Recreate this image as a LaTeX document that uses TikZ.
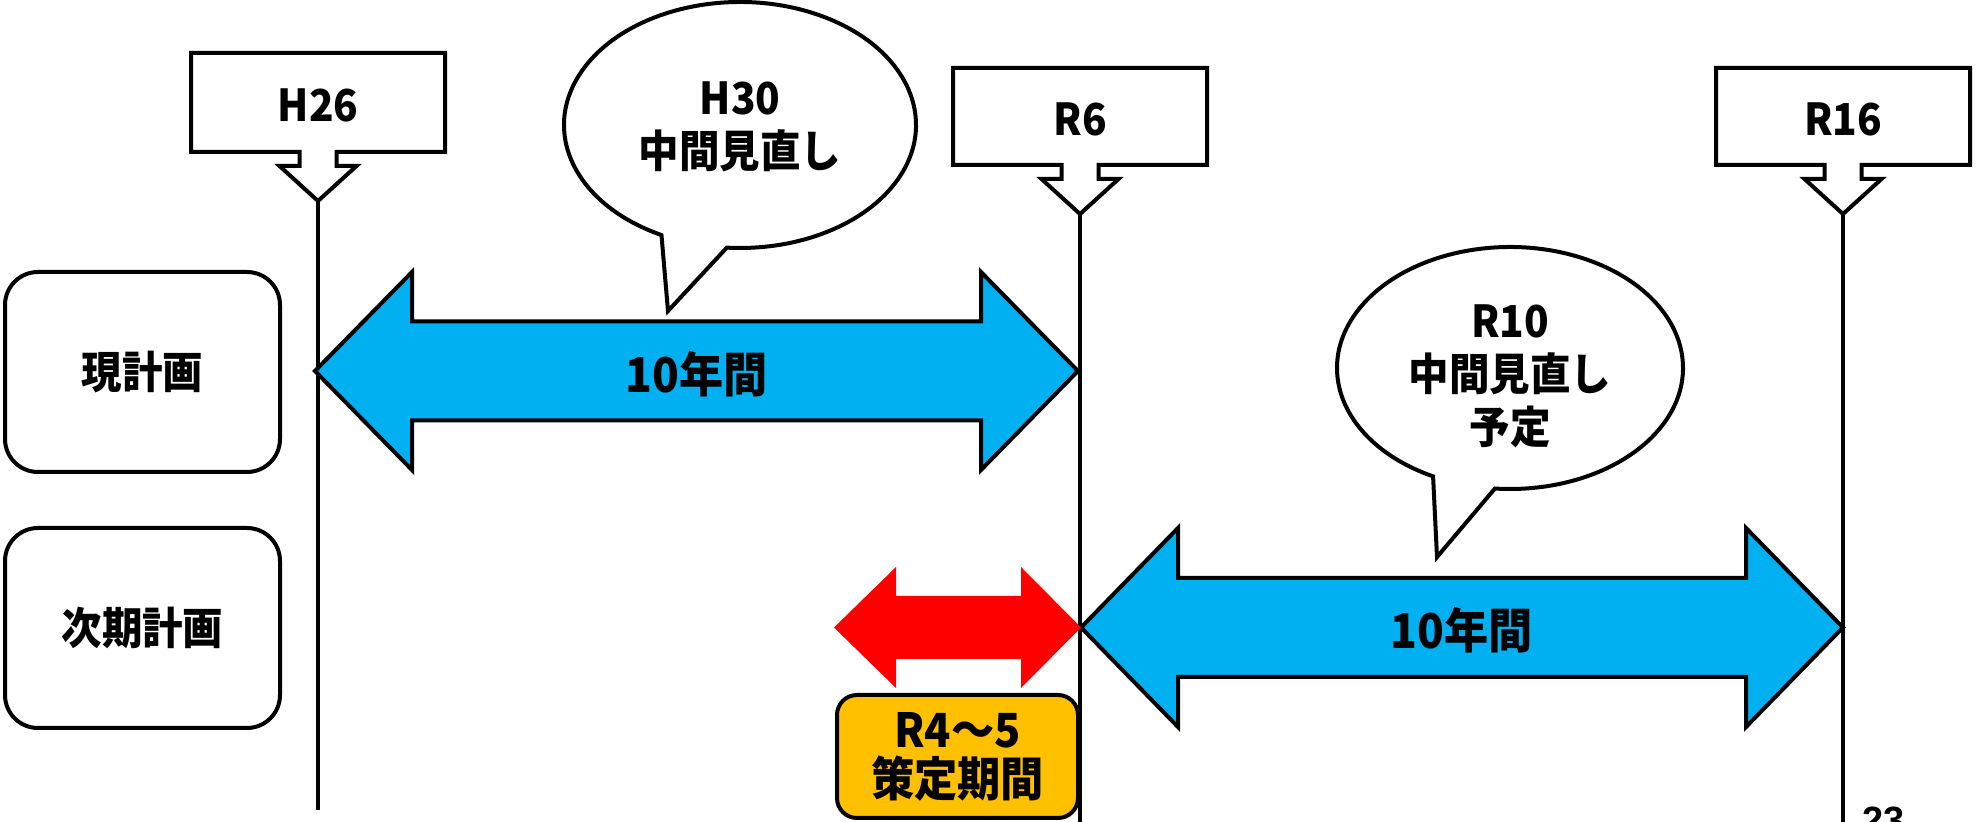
\documentclass[tikz,border=0pt]{standalone}
\usepackage{fontspec}
\newfontfamily\jp[FakeStretch=0.92]{Noto Sans CJK JP}
\setmainfont{Liberation Sans}
\definecolor{arrblue}{HTML}{00B0F0}
\definecolor{arrred}{HTML}{FF0000}
\definecolor{boxorange}{HTML}{FFC000}
\tikzset{
  outline/.style={draw=black, line width=2pt, line join=miter},
  vline/.style={draw=black, line width=1.75pt},
  lbl/.style={font=\jp\bfseries\fontsize{22}{26.5}\selectfont, align=center, inner sep=0pt},
  arrlbl/.style={font=\jp\bfseries\fontsize{24}{28}\selectfont, inner sep=0pt},
  sidebox/.style={outline, rounded corners=16.5pt, minimum width=137.5pt, minimum height=100pt, fill=white, inner sep=0pt, font=\jp\bfseries\fontsize{22}{26.5}\selectfont},
  orangebox/.style={outline, rounded corners=10pt, minimum width=120.5pt, minimum height=61.5pt, fill=boxorange, inner sep=0pt, align=center, font=\jp\bfseries\fontsize{23.5}{24.5}\selectfont},
  bluearrow/.style={outline, fill=arrblue},
  redarrow/.style={draw=none, fill=arrred},
}
% #1 name, #2 centre x, #3 top, #4 bottom, #5 text
\newcommand{\yearflag}[5]{%
  \draw[outline, fill=white]
    ({#2-127},#3) -- ({#2+127},#3) -- ({#2+127},#4) -- ({#2+18.5},#4)
    -- ({#2+18.5},{#4+14}) -- ({#2+38.5},{#4+14}) -- (#2,{#4+49})
    -- ({#2-38.5},{#4+14}) -- ({#2-18.5},{#4+14}) -- ({#2-18.5},#4)
    -- ({#2-127},#4) -- cycle;
  \node[lbl] (#1) at (#2,{(#3+#4)/2+3}) {#5};
  \coordinate (#1-tip) at (#2,{#4+49});
}
% #1 left tip x, #2 right tip x, #3 left base x, #4 right base x, #5 centre y, #6 head half height, #7 shaft half height
\newcommand{\dblarrowpath}[7]{%
  (#1,#5) -- (#3,{#5-#6}) -- (#3,{#5-#7}) -- (#4,{#5-#7}) -- (#4,{#5-#6})
  -- (#2,#5) -- (#4,{#5+#6}) -- (#4,{#5+#7}) -- (#3,{#5+#7}) -- (#3,{#5+#6}) -- cycle
}
\begin{document}
\begin{tikzpicture}[x=0.5pt, y=-0.5pt]
\useasboundingbox (0,0) rectangle (1977,822);

% coordinates for line ends
\coordinate (h26-end) at (318,810);
\coordinate (r6-end) at (1080,830);
\coordinate (r16-end) at (1843,830);

% year flags
\yearflag{h26}{318}{53}{152}{H26}
\yearflag{r6}{1080}{68}{165}{R6}
\yearflag{r16}{1843}{68}{165}{R16}

% vertical time lines
\draw[vline] (h26-tip) -- (h26-end);
\draw[vline] (r6-tip) -- (r6-end);
\draw[vline] (r16-tip) -- (r16-end);

% side labels
\node[sidebox] (cur) at (142.5,372) {現計画};
\node[sidebox] (next) at (142.5,628) {次期計画};

% arrows
\draw[bluearrow] \dblarrowpath{315}{1078}{412}{981}{371}{99}{49.5};
\node[arrlbl] (a1) at (697,374) {10年間};
\draw[bluearrow] \dblarrowpath{1081}{1843}{1178}{1746}{627.5}{99.5}{49.5};
\node[arrlbl] (a2) at (1462,630) {10年間};
\fill[redarrow] \dblarrowpath{834}{1081}{896}{1021}{627.5}{60.5}{31.5};

% orange box
\node[orangebox] (plan) at (957.5,756.5) {R4～5\\策定期間};

% callout H30
\draw[outline, fill=white] (740,125) ++(116.5:176 and 123)
  arc[start angle=116.5, end angle=454.3, x radius=176, y radius=123]
  -- (668,311) -- cycle;
\node[lbl] (h30) at (740,127) {H30\\中間見直し};

% callout R10
\draw[outline, fill=white] (1510,368) ++(116.4:173 and 121)
  arc[start angle=116.4, end angle=455, x radius=173, y radius=121]
  -- (1437,557) -- cycle;
\node[lbl] (r10) at (1510,376) {R10\\中間見直し\\予定};

% page number (cut off at the bottom, as in the original)
\node[anchor=base west, inner sep=0pt, font=\bfseries\fontsize{19}{19}\selectfont] (pg) at (1862,834) {23};
\end{tikzpicture}
\end{document}
